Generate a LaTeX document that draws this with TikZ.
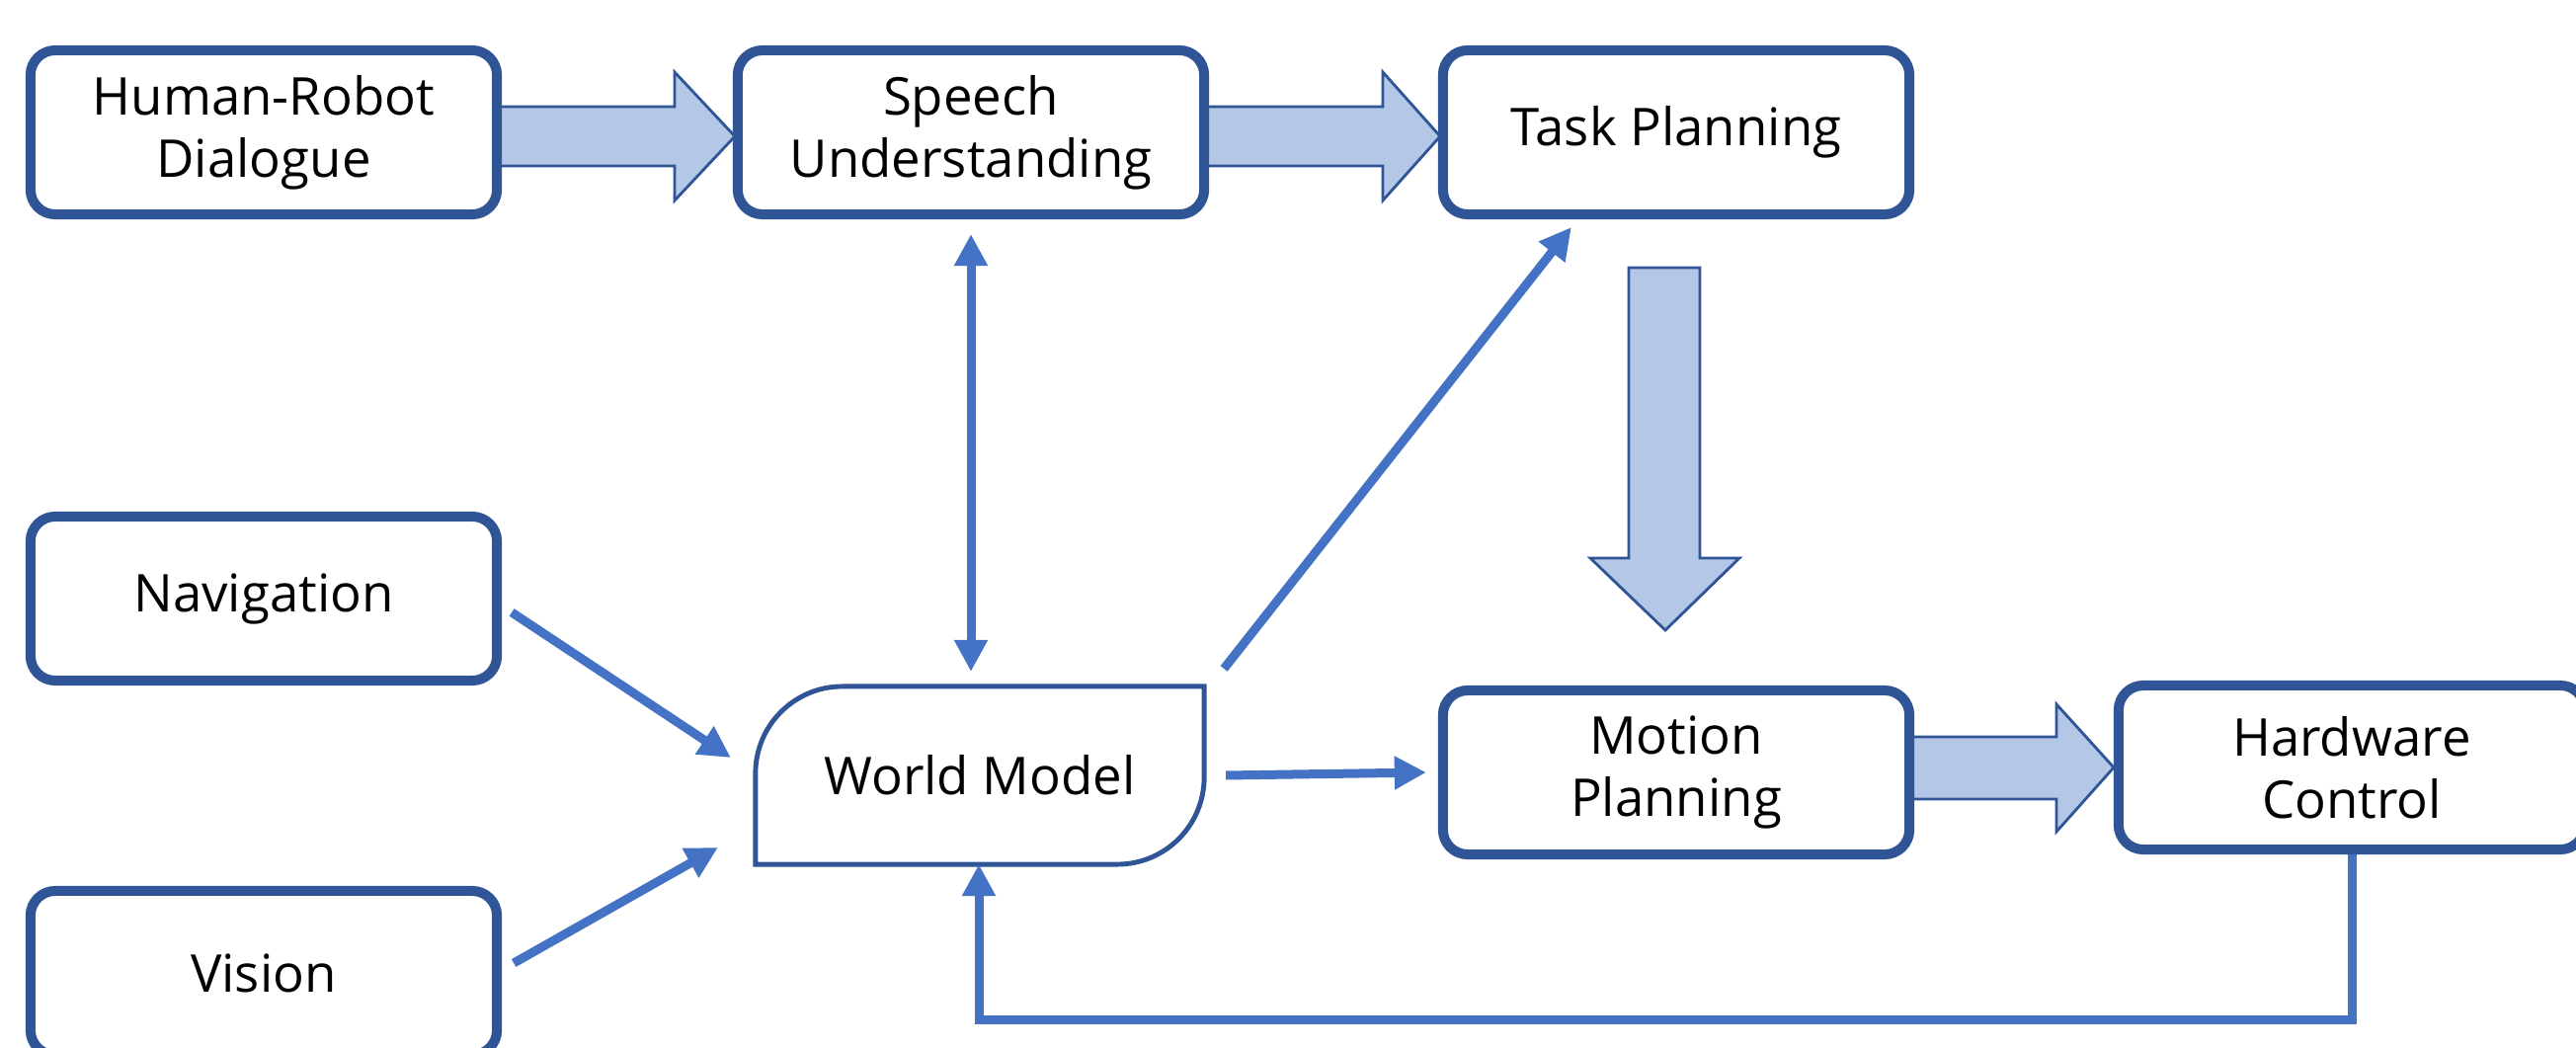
\documentclass[tikz,border=0pt]{standalone}
\usepackage{fontspec}
\setmainfont{Open Sans}
\usetikzlibrary{arrows.meta}
\definecolor{boxblue}{HTML}{2F5597}
\definecolor{lineblue}{HTML}{4472C4}
\definecolor{fillblue}{HTML}{B4C7E7}
\begin{document}
\begin{tikzpicture}[x=0.01cm,y=-0.01cm,
  txt/.style={font=\fontsize{15}{18}\selectfont, align=center, text=black},
  box/.style={txt, draw=boxblue, line width=2.85pt, fill=white, rounded corners=0.25cm,
    minimum width=4.72cm, minimum height=1.66cm, inner sep=0pt},
  wmbox/.style={txt, minimum width=4.54cm, minimum height=1.80cm, inner sep=0pt, outer sep=0pt},
  wmline/.style={draw=boxblue, line width=1.4pt, fill=white},
  thinarr/.style={draw=lineblue, line width=2.56pt, -{Triangle[length=0.32cm,width=0.32cm]}},
  dblarr/.style={draw=lineblue, line width=2.56pt, {Triangle[length=0.32cm,width=0.32cm]}-{Triangle[length=0.32cm,width=0.32cm]}},
  blk/.style={draw=boxblue, fill=fillblue, line width=0.8pt, line join=miter}]
\useasboundingbox (0,0) rectangle (2608,1061);
\clip (0,0) rectangle (2608,1061);

% block arrows (drawn first, boxes cover their bases)
\draw[blk] (500,108) -- (683,108) -- (683,73) -- (744,138) -- (683,203) -- (683,168) -- (500,168) -- cycle;
\draw[blk] (1215,108) -- (1400,108) -- (1400,73) -- (1458,138) -- (1400,203) -- (1400,168) -- (1215,168) -- cycle;
\draw[blk] (1649,271) -- (1721,271) -- (1721,565) -- (1761,565) -- (1686,638) -- (1610,565) -- (1649,565) -- cycle;
\draw[blk] (1930,746) -- (2082,746) -- (2082,713) -- (2140,777) -- (2082,842) -- (2082,809) -- (1930,809) -- cycle;

% boxes
\node[box] (hrd) at (267,134) {Human-Robot\\Dialogue};
\node[box] (su)  at (983,134) {Speech\\Understanding};
\node[box] (tp)  at (1697,134) {Task Planning};
\node[box] (nav) at (267,606) {Navigation};
\node[box] (vis) at (267,985) {Vision};
\node[box] (mp)  at (1697,782) {Motion\\Planning};
\node[box] (hc)  at (2381,777) {Hardware\\Control};

% world model
\node[wmbox] (wm) at (992,785) {};
\draw[wmline] (wm.south west) -- ([shift={(0,88)}]wm.north west)
  .. controls ([shift={(0,39.4)}]wm.north west) and ([shift={(39.4,0)}]wm.north west) .. ([shift={(88,0)}]wm.north west)
  -- (wm.north east) -- ([shift={(0,-88)}]wm.south east)
  .. controls ([shift={(0,-39.4)}]wm.south east) and ([shift={(-39.4,0)}]wm.south east) .. ([shift={(-88,0)}]wm.south east)
  -- cycle;
\node[txt] (wmtext) at (wm.center) {World Model};

% thin connectors
\draw[dblarr, shorten <=0.15cm, shorten >=0.15cm] (su.south) -- (su.south |- wm.north);
\draw[thinarr] ([shift={(20,-18)}]wm.north east) -- ([shift={(135,8)}]tp.south west);
\draw[thinarr] ([shift={(22,0)}]wm.east) -- ([shift={(-12,0)}]mp.west);
\draw[thinarr] ([shift={(10,14)}]nav.east) -- ([shift={(-25,-18)}]wm.west);
\draw[thinarr] ([shift={(12,-10)}]vis.east) -- ([shift={(-38,73)}]wm.west);
\coordinate (fb) at (991,1032);
\draw[thinarr, line join=miter] (hc.south) -- (hc.south |- fb) -- (fb) -- (fb |- wm.south);
\end{tikzpicture}
\end{document}
